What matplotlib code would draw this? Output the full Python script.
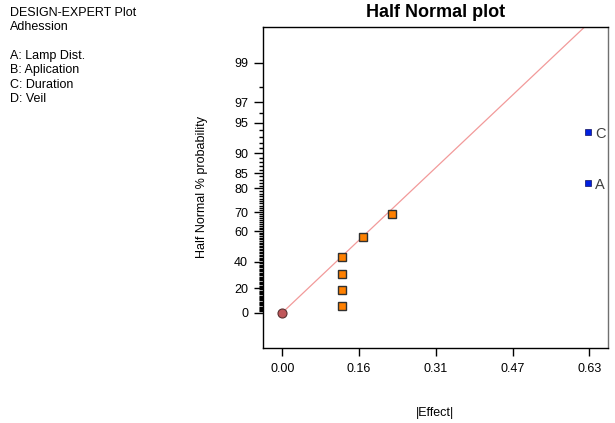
import matplotlib
matplotlib.use("Agg")
import matplotlib.pyplot as plt
from statistics import NormalDist

plt.rcParams['font.family'] = ['Liberation Sans', 'DejaVu Sans']

# effects (|Effect| and half-normal z-score)
zero_effect = [0.0]
zero_z = [0.0]
small_effects = [0.123, 0.123, 0.123, 0.123, 0.166, 0.224]
small_z = [0.072, 0.237, 0.399, 0.577, 0.777, 1.014]
big_effects = [0.628, 0.628]
big_z = [1.340, 1.866]
big_names = ['A', 'C']

line_slope = 4.75
x_ticks = [0.0, 0.1575, 0.315, 0.4725, 0.63]
x_tick_labels = ["0.00", "0.16", "0.31", "0.47", "0.63"]
y_major_pct = [0, 20, 40, 60, 70, 80, 85, 90, 95, 97, 99]

factors = ["A: Lamp Dist.", "B: Aplication", "C: Duration", "D: Veil"]


def half_z(pct):
    # half normal quantile for a percentage
    return NormalDist().inv_cdf(0.5 + pct / 200.0)


fig = plt.figure(figsize=(6.15, 4.23), dpi=100)
ax = fig.add_axes([262.7 / 615, 1 - 348 / 423, (608 - 262.7) / 615, (348 - 26.7) / 423])

ax.set_xlim(-0.0402, 0.668)
ax.set_ylim(-0.364, 2.948)

# fitted line through the origin
xs = [0.0, 0.70]
ax.plot(xs, [line_slope * v for v in xs], color='#f29a9a', lw=0.9, zorder=1)

ax.plot(zero_effect, zero_z, 'o', ms=6.5, mfc='#c0575a', mec='#5a3030', mew=0.8, zorder=3)
ax.plot(small_effects, small_z, 's', ms=6, mfc='#ff8000', mec='#303030', mew=1.0, zorder=3)
ax.plot(big_effects, big_z, 's', ms=5, mfc='#0020e0', mec='#101060', mew=0.5, zorder=3)
for xv, zv, name in zip(big_effects, big_z, big_names):
    ax.annotate(name, (xv, zv), xytext=(5, -4.5), textcoords='offset points',
                fontsize=10.5, color='#404040', clip_on=False, annotation_clip=False)

ax.set_xticks(x_ticks)
ax.set_xticklabels(x_tick_labels, fontsize=9)
ax.set_yticks([half_z(p) for p in y_major_pct])
ax.set_yticklabels([str(p) for p in y_major_pct], fontsize=9)
ax.set_yticks([half_z(p) for p in range(1, 99) if p not in y_major_pct], minor=True)

ax.tick_params(axis='y', which='major', length=6.5, width=1, pad=4)
ax.tick_params(axis='y', which='minor', length=3, width=1)
ax.tick_params(axis='x', which='major', length=6, width=1, pad=5)
for sp in ax.spines.values():
    sp.set_linewidth(1)
ax.spines['right'].set_color('#707070')

ax.set_title("Half Normal plot", fontsize=13, fontweight='bold', pad=7)
ax.set_ylabel("Half Normal % probability", fontsize=9, labelpad=19)
ax.set_xlabel("|Effect|", fontsize=9, labelpad=23)

fig.text(10 / 615, 1 - 7 / 423, "DESIGN-EXPERT Plot\nAdhession\n\n" + "\n".join(factors),
         fontsize=9, va='top', ha='left', linespacing=1.26)

fig.savefig("out.png", dpi=100)
